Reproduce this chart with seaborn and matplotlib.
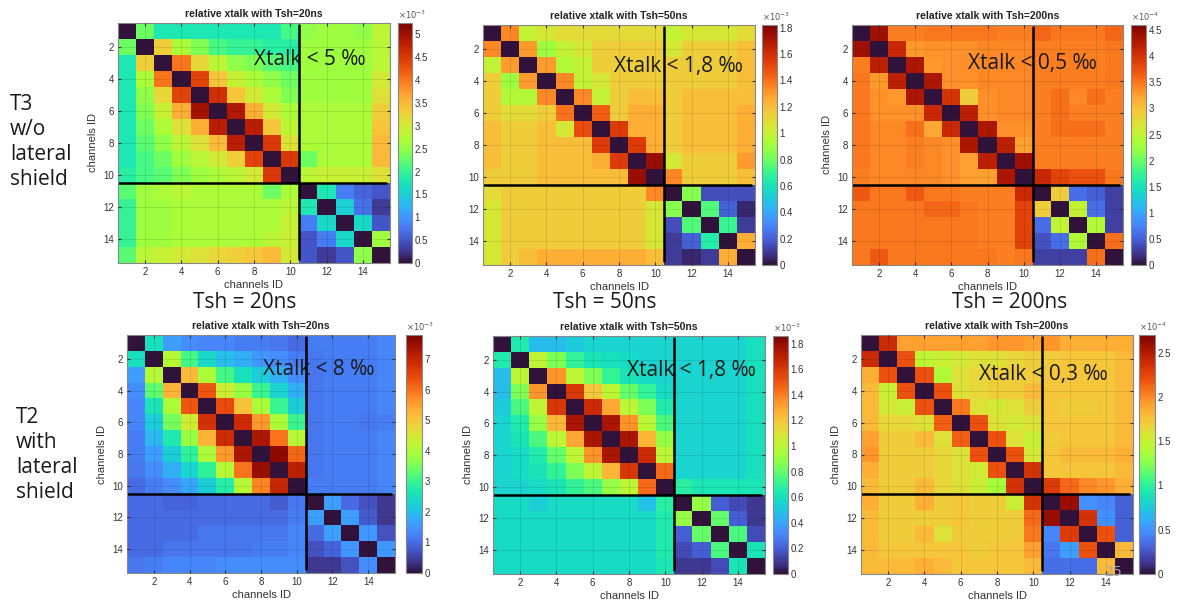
import numpy as np
import matplotlib
matplotlib.use("Agg")
import matplotlib.pyplot as plt
import seaborn as sns

channels = list(range(1, 16))
tick_channels = [2, 4, 6, 8, 10, 12, 14]

# T3 w/o lateral shield, Tsh=20ns  (x1e-3)
t3_20ns = [
    [0.0, 2.3, 1.8, 1.8, 1.8, 1.8, 1.8, 1.8, 1.8, 2.1, 2.5, 2.6, 2.6, 2.5, 2.8],
    [2.3, 0.0, 3.3, 2.7, 2.4, 2.1, 2.0, 2.0, 1.9, 1.9, 2.6, 2.6, 2.6, 2.6, 2.8],
    [1.8, 3.3, 0.0, 4.0, 3.2, 2.8, 2.5, 2.4, 2.2, 2.1, 2.6, 2.6, 2.6, 2.6, 2.8],
    [1.8, 2.7, 4.0, 0.0, 4.4, 3.4, 2.9, 2.7, 2.5, 2.3, 2.6, 2.6, 2.6, 2.6, 3.0],
    [1.8, 2.5, 3.2, 4.4, 0.0, 4.6, 3.4, 3.0, 2.7, 2.4, 2.6, 2.6, 2.6, 2.6, 3.1],
    [1.8, 2.4, 2.9, 3.6, 5.0, 0.0, 4.9, 3.6, 3.0, 2.7, 2.7, 2.7, 2.7, 2.7, 3.3],
    [1.8, 2.3, 2.7, 3.1, 3.6, 4.8, 0.0, 4.8, 3.4, 2.8, 2.7, 2.7, 2.7, 2.7, 3.4],
    [1.8, 2.2, 2.5, 2.8, 3.1, 3.5, 4.8, 0.0, 4.5, 3.1, 2.7, 2.7, 2.7, 2.7, 3.5],
    [1.8, 2.1, 2.3, 2.6, 2.8, 3.0, 3.3, 4.4, 0.0, 4.5, 2.3, 2.7, 2.7, 2.7, 3.5],
    [1.9, 2.1, 2.2, 2.4, 2.6, 2.7, 2.8, 3.0, 4.5, 0.0, 2.8, 2.9, 2.9, 2.9, 3.1],
    [2.2, 2.6, 2.7, 2.8, 2.7, 2.7, 2.7, 2.7, 2.3, 2.7, 0.0, 1.8, 0.8, 0.6, 0.5],
    [2.0, 2.6, 2.6, 2.7, 2.7, 2.7, 2.7, 2.7, 2.7, 2.8, 1.8, 0.0, 1.5, 0.7, 0.3],
    [2.0, 2.6, 2.6, 2.7, 2.7, 2.7, 2.7, 2.7, 2.7, 2.9, 0.8, 1.6, 0.0, 1.6, 0.5],
    [2.0, 2.6, 2.6, 2.7, 2.7, 2.7, 2.7, 2.7, 2.8, 2.9, 0.5, 0.8, 1.6, 0.0, 2.6],
    [2.2, 2.8, 2.9, 3.0, 3.1, 3.2, 3.3, 3.4, 3.5, 3.0, 0.5, 0.3, 0.5, 2.5, 0.0],
]

# T3 w/o lateral shield, Tsh=50ns  (x1e-3)
t3_50ns = [
    [0.0, 1.35, 1.0, 1.05, 1.1, 1.1, 1.1, 1.1, 1.1, 1.1, 1.0, 1.05, 1.05, 1.05, 1.1],
    [1.35, 0.0, 1.3, 0.9, 1.0, 1.05, 1.15, 1.15, 1.15, 1.15, 1.05, 1.15, 1.15, 1.15, 1.2],
    [1.0, 1.3, 0.0, 1.3, 0.95, 1.0, 1.15, 1.15, 1.15, 1.15, 1.15, 1.15, 1.15, 1.15, 1.2],
    [1.15, 0.9, 1.3, 0.0, 1.35, 1.0, 1.05, 1.15, 1.15, 1.15, 1.15, 1.15, 1.15, 1.15, 1.2],
    [1.15, 0.95, 0.95, 1.35, 0.0, 1.35, 1.0, 1.15, 1.2, 1.2, 1.15, 1.2, 1.2, 1.2, 1.2],
    [1.15, 1.1, 1.1, 1.15, 1.4, 0.0, 1.45, 1.15, 1.25, 1.25, 1.15, 1.2, 1.2, 1.2, 1.25],
    [1.2, 1.15, 1.15, 1.2, 1.05, 1.5, 0.0, 1.55, 1.25, 1.25, 1.15, 1.2, 1.2, 1.2, 1.25],
    [1.2, 1.15, 1.15, 1.2, 1.2, 1.2, 1.55, 0.0, 1.55, 1.25, 1.15, 1.2, 1.2, 1.2, 1.25],
    [1.2, 1.15, 1.15, 1.2, 1.2, 1.2, 1.25, 1.55, 0.0, 1.75, 1.05, 1.15, 1.15, 1.15, 1.3],
    [1.15, 1.15, 1.15, 1.2, 1.2, 1.2, 1.2, 1.2, 1.75, 0.0, 1.35, 1.15, 1.15, 1.15, 1.2],
    [1.1, 1.15, 1.15, 1.15, 1.15, 1.15, 1.15, 1.15, 1.15, 1.35, 0.0, 0.85, 0.15, 0.15, 0.15],
    [1.05, 1.15, 1.15, 1.15, 1.15, 1.15, 1.15, 1.15, 1.15, 1.05, 0.85, 0.0, 0.75, 0.2, 0.05],
    [1.05, 1.15, 1.15, 1.15, 1.15, 1.15, 1.15, 1.15, 1.15, 1.05, 0.15, 0.75, 0.0, 0.7, 0.1],
    [1.05, 1.15, 1.15, 1.15, 1.15, 1.15, 1.15, 1.15, 1.15, 1.05, 0.1, 0.2, 0.65, 0.0, 1.25],
    [1.05, 1.15, 1.2, 1.25, 1.25, 1.25, 1.25, 1.25, 1.25, 1.2, 0.1, 0.05, 0.1, 1.25, 0.0],
]

# T3 w/o lateral shield, Tsh=200ns  (x1e-4)
t3_200ns = [
    [0.0, 4.4, 3.45, 3.45, 3.5, 3.5, 3.5, 3.5, 3.45, 3.45, 3.6, 3.5, 3.5, 3.5, 3.6],
    [4.4, 0.0, 4.1, 3.3, 3.35, 3.35, 3.35, 3.4, 3.4, 3.4, 3.45, 3.45, 3.45, 3.45, 3.5],
    [3.45, 4.2, 0.0, 4.3, 3.3, 3.35, 3.35, 3.4, 3.4, 3.4, 3.45, 3.45, 3.45, 3.45, 3.5],
    [3.5, 3.3, 4.2, 0.0, 4.3, 3.35, 3.35, 3.4, 3.4, 3.4, 3.45, 3.45, 3.45, 3.45, 3.5],
    [3.5, 3.35, 3.3, 4.3, 0.0, 4.0, 2.9, 3.35, 3.4, 3.4, 3.45, 3.55, 3.4, 3.55, 3.45],
    [3.5, 3.35, 3.35, 3.35, 4.1, 0.0, 4.2, 3.35, 3.4, 3.4, 3.45, 3.55, 3.45, 3.45, 3.45],
    [3.5, 3.4, 3.4, 3.55, 3.2, 4.1, 0.0, 4.3, 3.35, 3.35, 3.45, 3.55, 3.55, 3.55, 3.45],
    [3.5, 3.4, 3.4, 3.45, 3.4, 3.35, 4.3, 0.0, 4.2, 3.25, 3.45, 3.45, 3.45, 3.45, 3.45],
    [3.5, 3.4, 3.4, 3.45, 3.4, 3.35, 3.25, 4.2, 0.0, 4.4, 3.45, 3.45, 3.45, 3.45, 3.45],
    [3.45, 3.4, 3.4, 3.4, 3.4, 3.35, 3.25, 3.25, 4.3, 0.0, 4.1, 3.85, 3.75, 3.75, 3.5],
    [3.7, 3.5, 3.5, 3.7, 3.5, 3.5, 3.45, 3.45, 3.45, 4.1, 0.0, 2.9, 0.6, 0.5, 0.3],
    [3.5, 3.5, 3.5, 3.5, 3.6, 3.6, 3.5, 3.45, 3.45, 3.85, 2.9, 0.0, 2.5, 0.6, 0.3],
    [3.5, 3.5, 3.5, 3.5, 3.5, 3.5, 3.5, 3.45, 3.45, 3.85, 0.6, 2.5, 0.0, 2.4, 0.3],
    [3.5, 3.5, 3.5, 3.5, 3.5, 3.5, 3.5, 3.45, 3.45, 3.85, 0.4, 0.6, 2.4, 0.0, 3.55],
    [3.5, 3.7, 3.5, 3.5, 3.5, 3.5, 3.5, 3.5, 3.45, 3.5, 0.3, 0.3, 0.3, 3.55, 0.0],
]

# T2 with lateral shield, Tsh=20ns  (x1e-3)
t2_20ns = [
    [0.0, 2.5, 1.6, 1.4, 1.3, 1.3, 1.2, 1.2, 1.1, 1.0, 1.2, 1.2, 1.2, 1.2, 1.3],
    [2.5, 0.0, 4.1, 3.1, 2.4, 2.0, 1.8, 1.5, 1.4, 1.2, 1.1, 1.2, 1.2, 1.2, 1.3],
    [1.6, 4.1, 0.0, 5.2, 4.0, 3.1, 2.5, 2.2, 1.8, 1.4, 1.1, 1.2, 1.2, 1.2, 1.3],
    [1.4, 3.3, 5.3, 0.0, 6.3, 4.4, 3.8, 3.0, 2.3, 1.8, 1.1, 1.2, 1.2, 1.2, 1.3],
    [1.3, 2.6, 4.0, 6.3, 0.0, 6.4, 5.1, 4.0, 3.0, 2.2, 1.1, 1.2, 1.2, 1.2, 1.3],
    [1.3, 2.2, 3.5, 4.4, 6.8, 0.0, 6.9, 5.6, 4.0, 3.0, 1.1, 1.2, 1.2, 1.1, 1.2],
    [1.2, 1.9, 2.7, 3.8, 5.3, 6.9, 0.0, 7.3, 6.0, 4.1, 1.1, 1.2, 1.2, 1.2, 1.3],
    [1.2, 1.6, 2.2, 2.9, 4.0, 5.6, 7.3, 0.0, 7.6, 6.1, 1.1, 1.2, 1.2, 1.2, 1.3],
    [1.1, 1.4, 1.8, 2.3, 2.9, 4.1, 6.0, 7.5, 0.0, 7.1, 1.1, 1.2, 1.2, 1.2, 1.3],
    [1.0, 1.2, 1.4, 1.7, 2.2, 2.8, 4.1, 5.8, 7.0, 0.0, 1.2, 1.2, 1.2, 1.2, 1.3],
    [1.0, 1.0, 0.9, 0.9, 1.0, 1.0, 1.0, 1.0, 0.8, 1.1, 0.0, 1.6, 1.0, 0.7, 0.4],
    [1.0, 1.0, 1.0, 1.0, 1.0, 1.0, 1.0, 1.0, 1.0, 1.2, 1.6, 0.0, 1.6, 0.8, 0.4],
    [1.0, 1.0, 1.0, 1.0, 1.1, 1.1, 1.1, 1.1, 1.1, 1.3, 1.0, 1.6, 0.0, 1.5, 0.7],
    [1.0, 1.0, 1.1, 1.1, 1.1, 1.1, 1.1, 1.2, 1.2, 1.3, 0.7, 0.9, 1.5, 0.0, 1.5],
    [1.1, 1.2, 1.3, 1.3, 1.3, 1.4, 1.4, 1.4, 1.4, 1.4, 0.4, 0.4, 0.7, 1.4, 0.0],
]

# T2 with lateral shield, Tsh=50ns  (x1e-3)
t2_50ns = [
    [0.0, 0.65, 0.47, 0.47, 0.52, 0.55, 0.55, 0.55, 0.55, 0.55, 0.55, 0.55, 0.55, 0.55, 0.6],
    [0.65, 0.0, 1.0, 0.85, 0.7, 0.62, 0.6, 0.58, 0.55, 0.55, 0.55, 0.55, 0.55, 0.55, 0.6],
    [0.47, 1.0, 0.0, 1.35, 1.0, 0.85, 0.7, 0.62, 0.58, 0.55, 0.55, 0.55, 0.55, 0.55, 0.6],
    [0.47, 0.85, 1.35, 0.0, 1.6, 1.2, 1.0, 0.8, 0.7, 0.58, 0.55, 0.55, 0.55, 0.55, 0.6],
    [0.52, 0.75, 1.0, 1.6, 0.0, 1.65, 1.3, 1.0, 0.85, 0.65, 0.55, 0.55, 0.55, 0.55, 0.6],
    [0.55, 0.65, 0.9, 1.25, 1.75, 0.0, 1.75, 1.35, 1.0, 0.75, 0.55, 0.55, 0.55, 0.55, 0.6],
    [0.55, 0.62, 0.75, 1.0, 1.3, 1.75, 0.0, 1.75, 1.25, 0.9, 0.55, 0.55, 0.55, 0.55, 0.6],
    [0.55, 0.58, 0.65, 0.8, 1.0, 1.35, 1.75, 0.0, 1.65, 1.0, 0.55, 0.55, 0.55, 0.55, 0.6],
    [0.55, 0.58, 0.62, 0.7, 0.85, 1.0, 1.25, 1.6, 0.0, 1.45, 0.55, 0.55, 0.55, 0.55, 0.6],
    [0.55, 0.55, 0.58, 0.62, 0.7, 0.75, 0.9, 1.0, 1.45, 0.0, 0.68, 0.63, 0.63, 0.63, 0.63],
    [0.58, 0.58, 0.53, 0.58, 0.58, 0.58, 0.58, 0.58, 0.48, 0.68, 0.0, 0.9, 0.2, 0.15, 0.1],
    [0.58, 0.58, 0.58, 0.58, 0.58, 0.58, 0.58, 0.58, 0.58, 0.65, 0.9, 0.0, 0.8, 0.2, 0.1],
    [0.58, 0.58, 0.58, 0.58, 0.58, 0.58, 0.58, 0.58, 0.58, 0.65, 0.2, 0.8, 0.0, 0.75, 0.15],
    [0.58, 0.58, 0.58, 0.58, 0.58, 0.58, 0.58, 0.58, 0.58, 0.65, 0.15, 0.2, 0.75, 0.0, 0.62],
    [0.58, 0.58, 0.58, 0.58, 0.58, 0.58, 0.58, 0.58, 0.58, 0.63, 0.1, 0.1, 0.15, 0.62, 0.0],
]

# T2 with lateral shield, Tsh=200ns  (x1e-4)
t2_200ns = [
    [0.0, 2.4, 1.9, 1.9, 1.9, 1.9, 1.9, 1.95, 1.95, 1.9, 1.95, 1.85, 1.85, 1.85, 1.85],
    [2.4, 0.0, 2.2, 1.45, 1.5, 1.55, 1.6, 1.6, 1.65, 1.7, 1.7, 1.75, 1.75, 1.75, 1.8],
    [1.85, 2.2, 0.0, 2.2, 1.4, 1.6, 1.65, 1.7, 1.7, 1.7, 1.75, 1.75, 1.75, 1.75, 1.8],
    [1.8, 1.5, 2.2, 0.0, 2.2, 1.6, 1.65, 1.7, 1.7, 1.8, 1.75, 1.75, 1.75, 1.75, 1.8],
    [1.8, 1.55, 1.5, 2.2, 0.0, 2.05, 1.6, 1.55, 1.6, 1.7, 1.75, 1.7, 1.7, 1.75, 1.8],
    [1.8, 1.65, 1.65, 1.6, 2.15, 0.0, 2.2, 1.6, 1.55, 1.6, 1.75, 1.75, 1.75, 1.75, 1.8],
    [1.9, 1.7, 1.7, 1.8, 1.6, 2.15, 0.0, 2.2, 1.6, 1.5, 1.7, 1.75, 1.75, 1.75, 1.8],
    [1.95, 1.7, 1.7, 1.7, 1.65, 1.6, 2.2, 0.0, 2.2, 1.55, 1.75, 1.8, 1.8, 1.8, 1.85],
    [1.85, 1.7, 1.7, 1.7, 1.65, 1.6, 1.55, 2.2, 0.0, 2.35, 1.75, 1.75, 1.75, 1.75, 1.8],
    [1.8, 1.7, 1.7, 1.8, 1.65, 1.6, 1.5, 1.35, 2.35, 0.0, 2.3, 2.1, 2.0, 1.95, 1.85],
    [1.85, 1.7, 1.7, 1.85, 1.7, 1.75, 1.7, 1.7, 1.5, 2.35, 0.0, 2.6, 0.5, 0.45, 0.3],
    [1.8, 1.7, 1.7, 1.7, 1.7, 1.75, 1.7, 1.7, 1.7, 2.1, 2.6, 0.0, 2.35, 0.5, 0.3],
    [1.8, 1.7, 1.7, 1.8, 1.6, 1.7, 1.7, 1.7, 1.7, 2.05, 0.45, 2.3, 0.0, 2.2, 0.3],
    [1.8, 1.75, 1.75, 1.75, 1.75, 1.75, 1.7, 1.75, 1.75, 1.9, 0.4, 0.55, 2.2, 0.0, 1.8],
    [1.8, 1.8, 1.8, 1.85, 1.8, 1.75, 1.75, 1.75, 1.75, 1.8, 0.35, 0.35, 0.35, 1.8, 0.0],
]

titles = ["relative xtalk with Tsh=20ns", "relative xtalk with Tsh=50ns", "relative xtalk with Tsh=200ns"] * 2
matrices = [t3_20ns, t3_50ns, t3_200ns, t2_20ns, t2_50ns, t2_200ns]
exponents = [-3, -3, -4, -3, -3, -4]
vmaxes = [5.25, 1.82, 4.6, 7.8, 1.86, 2.7]
cbar_ticks = [
    [0, 0.5, 1, 1.5, 2, 2.5, 3, 3.5, 4, 4.5, 5],
    [0, 0.2, 0.4, 0.6, 0.8, 1, 1.2, 1.4, 1.6, 1.8],
    [0, 0.5, 1, 1.5, 2, 2.5, 3, 3.5, 4, 4.5],
    [0, 1, 2, 3, 4, 5, 6, 7],
    [0, 0.2, 0.4, 0.6, 0.8, 1, 1.2, 1.4, 1.6, 1.8],
    [0, 0.5, 1, 1.5, 2, 2.5],
]
xtalk_labels = ["Xtalk < 5 ‰", "Xtalk < 1,8 ‰", "Xtalk < 0,5 ‰",
                "Xtalk < 8 ‰", "Xtalk < 1,8 ‰", "Xtalk < 0,3 ‰"]
xtalk_pos = [(7.5, 2.3), (7.2, 2.6), (6.4, 2.4), (7.6, 2.2), (7.4, 2.2), (6.5, 2.5)]
tsh_labels = ["Tsh = 20ns", "Tsh = 50ns", "Tsh = 200ns"]
row_labels = ["T3\nw/o\nlateral\nshield", "T2\nwith\nlateral\nshield"]

# pixel boxes (left, top, right, bottom) for axes and colorbars
ax_boxes = [(118, 23, 390, 263), (483, 25, 755, 265), (852, 25, 1123, 265),
            (127, 335, 395, 573), (493, 336, 765, 574), (861, 335, 1133, 574)]
cb_boxes = [(398, 23, 412, 263), (762, 25, 777, 265), (1131, 25, 1146, 265),
            (406, 335, 422, 573), (773, 336, 788, 574), (1139, 335, 1155, 574)]

W, H = 1180, 603
def rect(b):
    l, t, r, bt = b
    return [l / W, 1 - bt / H, (r - l) / W, (bt - t) / H]

sns.set_style("white")
plt.rcParams["font.family"] = ["Liberation Sans", "DejaVu Sans"]
big_font = ["Open Sans", "DejaVu Sans"]

fig = plt.figure(figsize=(11.8, 6.03), dpi=100)
fig.patch.set_facecolor("white")

for i, mat in enumerate(matrices):
    ax = fig.add_axes(rect(ax_boxes[i]))
    cax = fig.add_axes(rect(cb_boxes[i]))
    scale = 10.0 ** exponents[i]
    data = np.array(mat) * scale
    sns.heatmap(data, ax=ax, cbar_ax=cax, cmap="turbo", vmin=0, vmax=vmaxes[i] * scale,
                xticklabels=False, yticklabels=False, square=False)
    pos = [c - 0.5 for c in tick_channels]
    ax.set_xticks(pos)
    ax.set_xticklabels([str(c) for c in tick_channels])
    ax.set_yticks(pos)
    ax.set_yticklabels([str(c) for c in tick_channels], rotation=0)
    ax.tick_params(axis="both", labelsize=7, colors="#333333", direction="in", length=2,
                   top=True, right=True, bottom=True, left=True, pad=3)
    for s in ax.spines.values():
        s.set_visible(True)
        s.set_color("#888888")
        s.set_linewidth(0.8)
    ax.grid(True, color="black", alpha=0.12, lw=0.6)
    ax.set_axisbelow(False)
    ax.set_title(titles[i], fontsize=7.5, fontweight="bold", pad=4, color="#222222")
    ax.set_xlabel("channels ID", fontsize=8, color="#333333", labelpad=2)
    if i != 1:
        ax.set_ylabel("channels ID", fontsize=8, color="#333333", labelpad=4)

    # overlay separation lines and annotation
    ax.plot([10, 10], [0.1, 14.75], color="black", lw=1.8)
    ax.plot([0.05, 14.8], [10, 10], color="black", lw=1.8)
    xp, yp = xtalk_pos[i]
    ax.text(xp, yp, xtalk_labels[i], fontsize=15, family=big_font, color="#1a1a1a",
            ha="left", va="center")

    # colorbar
    cbar = ax.collections[0].colorbar
    cbar.set_ticks([t * scale for t in cbar_ticks[i]])
    cbar.set_ticklabels([("%g" % t) for t in cbar_ticks[i]])
    cbar.ax.tick_params(labelsize=7, colors="#333333", direction="in", length=2, pad=2)
    cbar.outline.set_edgecolor("#888888")
    cbar.outline.set_linewidth(0.8)
    cax.text(0.0, 1.01, r"$\times10^{%d}$" % exponents[i], transform=cax.transAxes,
             fontsize=6, color="#555555", ha="left", va="bottom")

for j, lab in enumerate(tsh_labels):
    cx = [245, 605, 1010][j]
    fig.text(cx / W, 1 - 303 / H, lab, fontsize=15, family=big_font, color="#1a1a1a",
             ha="center", va="center")

fig.text(10 / W, 1 - 142 / H, row_labels[0], fontsize=15, family=big_font, color="#1a1a1a",
         ha="left", va="center", linespacing=1.25)
fig.text(16 / W, 1 - 455 / H, row_labels[1], fontsize=15, family=big_font, color="#1a1a1a",
         ha="left", va="center", linespacing=1.25)
fig.text(1113 / W, 1 - 573 / H, "25", fontsize=11, family=big_font, color="#aaaaaa",
         ha="center", va="center")

fig.savefig("out.png", dpi=100, facecolor="white")
